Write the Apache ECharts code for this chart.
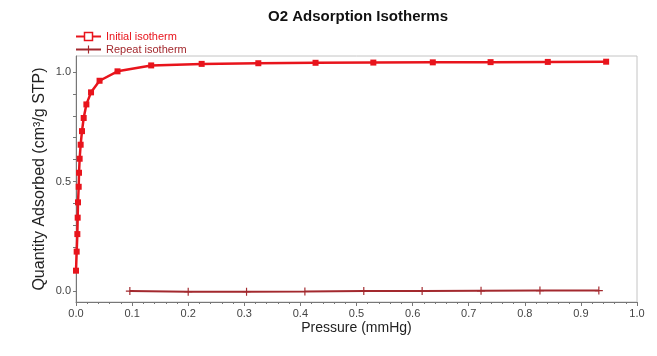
<!DOCTYPE html>
<html>
<head>
<meta charset="utf-8">
<script src="https://cdn.jsdelivr.net/npm/echarts@6/dist/echarts.min.js"></script>
<style>
html,body{margin:0;padding:0;background:#fff;}
#chart{width:657px;height:356px;}
</style>
</head>
<body>
<div id="chart"></div>
<script>
var titleText = 'O2 Adsorption Isotherms';
var seriesNames = ['Initial isotherm', 'Repeat isotherm'];
var initialX = [0.000, 0.0012, 0.0024, 0.003, 0.0036, 0.0048, 0.0054, 0.0065, 0.0083, 0.0107, 0.0137, 0.0185, 0.0268, 0.042, 0.074, 0.134, 0.224, 0.325, 0.427, 0.530, 0.636, 0.739, 0.841, 0.945];
var initialY = [0.093, 0.180, 0.260, 0.335, 0.405, 0.476, 0.540, 0.604, 0.668, 0.730, 0.790, 0.852, 0.907, 0.960, 1.003, 1.030, 1.037, 1.040, 1.042, 1.043, 1.044, 1.045, 1.046, 1.047];
var repeatX = [0.096, 0.200, 0.304, 0.408, 0.513, 0.617, 0.722, 0.827, 0.932];
var repeatY = [0.000, -0.003, -0.003, -0.002, 0.000, 0.000, 0.001, 0.002, 0.002];
var yLabelValues = [0, 0.5, 1.0];
var yTickValues = [0, 0.1, 0.2, 0.3, 0.4, 0.5, 0.6, 0.7, 0.8, 0.9, 1.0];
var xTitle = 'Pressure (mmHg)';
var yTitle = 'Quantity Adsorbed (cm³/g STP)';

function pairs(xs, ys){ return xs.map(function(x,i){ return [x, ys[i]]; }); }

var redColor = '#e8141c';
var brownColor = '#a3292e';
var plusPath = 'path://M3.5,0h1.2v3.5h3.5v1.2h-3.5v3.5h-1.2v-3.5h-3.5v-1.2h3.5z';
var font = 'Liberation Sans, Arial, sans-serif';

var chart = echarts.init(document.getElementById('chart'), null, {renderer:'canvas'});
chart.setOption({
  animation: false,
  backgroundColor: '#fff',
  title: {
    text: titleText,
    left: 263, top: 4,
    textStyle: {fontFamily: font, fontSize: 15, fontWeight: 'bold', color: '#111'}
  },
  legend: {
    orient: 'vertical', left: 70, top: 26, itemGap: 2, itemWidth: 25, itemHeight: 10,
    textStyle: {fontFamily: font, fontSize: 11},
    data: [
      {name: seriesNames[0], textStyle: {color: redColor}, itemStyle: {color: '#fff', borderColor: redColor, borderWidth: 1.5}},
      {name: seriesNames[1], textStyle: {color: brownColor}}
    ]
  },
  grid: {left: 76, right: 20, top: 56, bottom: 54, show: true, borderColor: '#c4c4c4', borderWidth: 1, containLabel: false},
  xAxis: {
    type: 'value', min: 0, max: 1.0, interval: 0.1,
    name: xTitle, nameLocation: 'middle', nameGap: 19, nameMoveOverlap: false,
    nameTextStyle: {fontFamily: font, fontSize: 14, color: '#222'},
    axisLine: {show: true, onZero: false, lineStyle: {color: '#777', width: 1}},
    axisTick: {show: true, length: 4, inside: false, lineStyle: {color: '#777'}},
    minorTick: {show: true, splitNumber: 5, length: 2, lineStyle: {color: '#777'}},
    axisLabel: {fontFamily: font, fontSize: 11, color: '#444', margin: 6,
      formatter: function(v){ return v.toFixed(1); }},
    splitLine: {show: false}
  },
  yAxis: {
    type: 'value', min: -0.05, max: 1.073,
    name: yTitle, nameLocation: 'middle', nameGap: 28, nameMoveOverlap: false,
    nameTextStyle: {fontFamily: font, fontSize: 16, color: '#222'},
    axisLine: {show: true, onZero: false, lineStyle: {color: '#777', width: 1}},
    axisTick: {show: true, length: 3, customValues: yTickValues, lineStyle: {color: '#777'}},
    axisLabel: {fontFamily: font, fontSize: 11, color: '#444', margin: 5,
      customValues: yLabelValues, formatter: function(v){ return v.toFixed(1); }},
    splitLine: {show: false}
  },
  series: [
    {
      name: seriesNames[0], type: 'line', data: pairs(initialX, initialY),
      symbol: 'rect', symbolSize: 6, showAllSymbol: true,
      itemStyle: {color: redColor}, lineStyle: {color: redColor, width: 2.5}, z: 3
    },
    {
      name: seriesNames[1], type: 'line', data: pairs(repeatX, repeatY),
      symbol: plusPath, symbolSize: 8, showAllSymbol: true,
      itemStyle: {color: brownColor}, lineStyle: {color: brownColor, width: 2}, z: 2
    }
  ]
});
</script>
</body>
</html>
